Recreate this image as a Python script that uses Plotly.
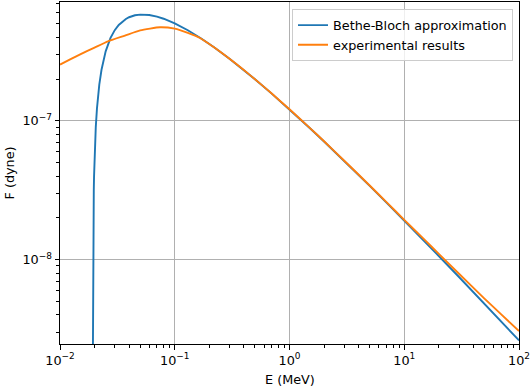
import plotly.graph_objects as go

# Bethe-Bloch approximation
bb_energy = [0.01932, 0.01935, 0.0194, 0.0195, 0.0197, 0.0198, 0.02, 0.0205, 0.021, 0.0215,
             0.022, 0.023, 0.024, 0.025, 0.0275, 0.03, 0.0325, 0.035, 0.0375, 0.04, 0.045,
             0.05, 0.0525, 0.06, 0.07, 0.08, 0.1, 0.13, 0.17, 0.2, 0.22, 0.3, 0.4, 0.5, 0.7,
             1, 1.5, 2, 3, 5, 7, 10, 15, 20, 30, 50, 70, 100]
bb_force = [1.64e-9, 4.09e-9, 8.15e-9, 1.618e-8, 3.186e-8, 3.953e-8, 5.451e-8, 9.004e-8, 1.230e-7, 1.5365e-7,
            1.821e-7, 2.333e-7, 2.779e-7, 3.167e-7, 3.940e-7, 4.499e-7, 4.907e-7, 5.204e-7, 5.420e-7, 5.575e-7, 5.757e-7,
            5.826e-7, 5.833e-7, 5.785e-7, 5.632e-7, 5.439e-7, 5.034e-7, 4.490e-7, 3.916e-7, 3.577e-7, 3.385e-7, 2.799e-7, 2.319e-7, 1.992e-7, 1.570e-7,
            1.208e-7, 8.880e-8, 7.100e-8, 5.147e-8, 3.401e-8, 2.576e-8, 1.913e-8, 1.358e-8, 1.062e-8, 7.496e-9, 4.810e-9, 3.583e-9, 2.617e-9]

exp_energy = [0.01, 0.0125, 0.015, 0.02, 0.0262, 0.0368, 0.05, 0.0743, 0.1, 0.13, 0.166,
              0.2, 0.22, 0.3, 0.4, 0.5, 0.7, 1, 1.5, 2, 3, 5, 7, 10, 15, 20, 30, 50, 70, 100]
exp_force = [2.54e-7, 2.79e-7, 3.01e-7, 3.37e-7, 3.74e-7, 4.11e-7, 4.48e-7, 4.72e-7, 4.61e-7, 4.30e-7, 3.95e-7,
             3.58e-7, 3.39e-7, 2.80e-7, 2.32e-7, 1.995e-7, 1.573e-7, 1.21e-7, 8.9e-8, 7.12e-8, 5.16e-8, 3.42e-8, 2.597e-8,
             1.932e-8, 1.392e-8, 1.099e-8, 7.91e-9, 5.24e-9, 4.03e-9, 3.06e-9]

x_tick_vals = [1e-2, 1e-1, 1e0, 1e1, 1e2]
x_tick_text = ["10<sup>−2</sup>", "10<sup>−1</sup>", "10<sup>0</sup>", "10<sup>1</sup>", "10<sup>2</sup>"]
y_tick_vals = [1e-8, 1e-7]
y_tick_text = ["10<sup>−8</sup>", "10<sup>−7</sup>"]

x_minor = [m * 10 ** e for e in range(-2, 2) for m in range(2, 10)]
y_minor = [m * 10 ** e for e in range(-9, -6) for m in range(2, 10)]

FS = 12.8
font = dict(family="DejaVu Sans", size=FS, color="black")

fig = go.Figure()
fig.add_trace(go.Scatter(x=bb_energy, y=bb_force, mode="lines", name="Bethe-Bloch approximation",
                         line=dict(color="#1f77b4", width=1.9)))
fig.add_trace(go.Scatter(x=exp_energy, y=exp_force, mode="lines", name="experimental results",
                         line=dict(color="#ff7f0e", width=1.9, shape="spline", smoothing=0.5)))

axis_common = dict(
    type="log", showline=True, linecolor="black", linewidth=1, mirror=True,
    ticks="outside", ticklen=4.5, tickwidth=1, tickcolor="black",
    showgrid=True, gridcolor="#b0b0b0", gridwidth=1, zeroline=False,
    tickfont=font, automargin=False,
)

fig.update_xaxes(**axis_common, range=[-2, 2], tickvals=x_tick_vals, ticktext=x_tick_text,
                 minor=dict(tickvals=x_minor, ticks="outside", ticklen=2.6, tickwidth=0.8,
                            tickcolor="black", showgrid=False))
fig.update_yaxes(**axis_common, range=[-8.608, -6.144], tickvals=y_tick_vals, ticktext=y_tick_text,
                 minor=dict(tickvals=y_minor, ticks="outside", ticklen=2.6, tickwidth=0.8,
                            tickcolor="black", showgrid=False))

L, R, T, B = 60, 13, 2, 44.5
W, H = 532, 389
pw, ph = W - L - R, H - T - B

fig.update_layout(
    width=W, height=H,
    margin=dict(l=L, r=R, t=T, b=B, pad=0),
    paper_bgcolor="white", plot_bgcolor="white",
    font=font,
    showlegend=True,
    hovermode=False,
    legend=dict(x=(513 - L) / pw, y=(H - B - 9.3) / ph, xanchor="right", yanchor="top",
                bgcolor="rgba(255,255,255,0.8)", bordercolor="#cccccc", borderwidth=1,
                font=font, tracegroupgap=0),
    annotations=[
        dict(text="E (MeV)", xref="paper", yref="paper", x=0.5, y=((H - B) - 380) / ph,
             xanchor="center", yanchor="middle", showarrow=False, font=font),
        dict(text="F (dyne)", xref="paper", yref="paper", x=(8.5 - L) / pw, y=0.5,
             xanchor="center", yanchor="middle", showarrow=False, font=font, textangle=-90),
    ],
)

fig.write_html("out.html", config={"displayModeBar": False},
               post_script="document.body.style.margin='0';document.body.style.overflow='hidden';")
